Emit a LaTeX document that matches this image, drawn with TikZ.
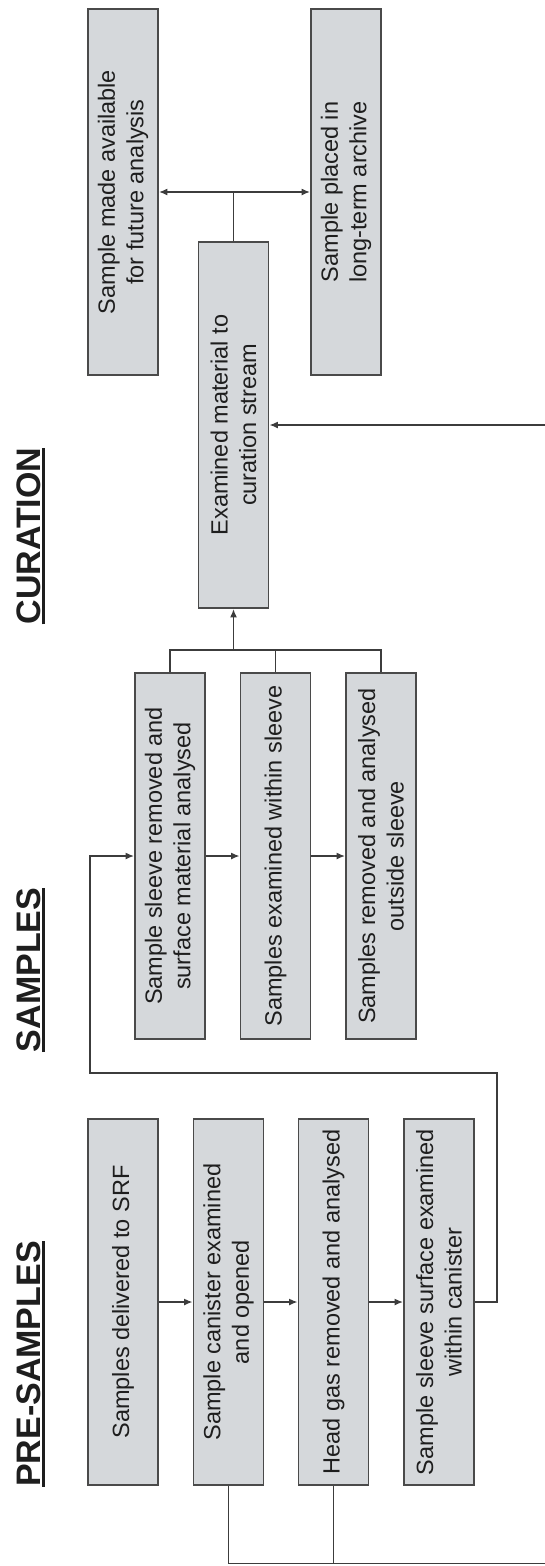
\documentclass[tikz,border=0pt]{standalone}
\usepackage{fontspec}
\setmainfont{Liberation Sans}
\usetikzlibrary{positioning, arrows.meta}
\definecolor{boxFill}{HTML}{D5D8DB}
\definecolor{boxLine}{HTML}{4A4A4A}
\definecolor{flowLine}{HTML}{3C3C3C}
\definecolor{labelText}{HTML}{1E1E1E}
% thick underline for the phase headings
\newcommand{\phaseline}[1]{\setbox0\hbox{#1}\rlap{\rule[-4.7pt]{\wd0}{2.4pt}}\box0}

\tikzset{
  stage/.style={draw=boxLine, fill=boxFill, line width=1.8pt, rotate=90,
    minimum width=366pt, minimum height=70pt, inner sep=2pt, align=center,
    text=labelText, font=\fontsize{23.5}{28.5}\selectfont},
  phase/.style={rotate=90, anchor=base, inner sep=0pt, text=labelText,
    font=\fontsize{34}{40}\selectfont\bfseries},
  flow/.style={draw=flowLine, line width=1.6pt},
  arr/.style={flow, -{Latex[length=8.5pt,width=7pt]}}
}

\begin{document}
\begin{tikzpicture}[x=1pt, y=-1pt]
\useasboundingbox (0,0) rectangle (545,1566);
\clip (0,0) rectangle (545,1566);

% headings
\node[phase] (hcur) at (40,536) {\phaseline{CURATION}};
\node[phase] (hsam) at (40,970) {\phaseline{SAMPLES}};
\node[phase] (hpre) at (40,1364) {\phaseline{PRE-SAMPLES}};

% curation
\node[stage] (avail) at (123,192) {Sample made available\\for future analysis};
\node[stage] (archive) at (346,192) {Sample placed in\\long-term archive};
\node[stage] (curate) at (233.5,425) {Examined material to\\curation stream};

% samples
\node[stage] (s1) at (170,856) {Sample sleeve removed and\\surface material analysed};
\node[stage] (s2) at (275.5,856) {Samples examined within sleeve};
\node[stage] (s3) at (381,856) {Samples removed and analysed\\outside sleeve};

% pre-samples
\node[stage] (p1) at (123,1302) {Samples delivered to SRF};
\node[stage] (p2) at (228.5,1302) {Sample canister examined\\and opened};
\node[stage] (p3) at (333.5,1302) {Head gas removed and analysed};
\node[stage] (p4) at (439,1302) {Sample sleeve surface examined\\within canister};

\coordinate (split) at (233.5,192);
\coordinate (join) at (233.5,650);
\coordinate (loopR) at (497,1073);
\coordinate (loopL) at (90,1073);
\coordinate (edgeB) at (548,1563.5);
\coordinate (edgeT) at (548,425);

% pre-sample chain
\draw[arr] (p1.south) -- (p2.north);
\draw[arr] (p2.south) -- (p3.north);
\draw[arr] (p3.south) -- (p4.north);
\draw[arr] (p4.south) -| (loopR) -- (loopL) |- (s1.north);

% sample chain
\draw[arr] (s1.south) -- (s2.north);
\draw[arr] (s2.south) -- (s3.north);
\draw[flow] (s1.east) |- (join) -| (s3.east);
\draw[flow] (s2.east) -- (s2.east |- join);
\draw[arr] (join) -- (curate.west);

% bypass to curation
\draw[arr] (p2.west) |- (edgeB) -- (edgeT) -- (curate.south);
\draw[flow] (p3.west) -- (p3.west |- edgeB);

% to storage
\draw[flow] (curate.east) -- (split);
\draw[arr] (split) -- (avail.south);
\draw[arr] (split) -- (archive.north);
\end{tikzpicture}
\end{document}
